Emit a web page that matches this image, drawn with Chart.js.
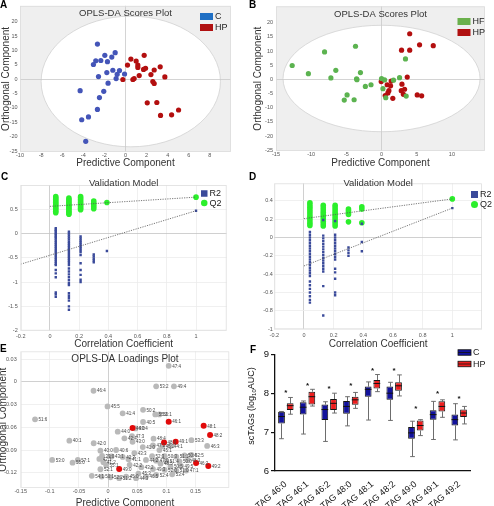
<!DOCTYPE html>
<html>
<head>
<meta charset="utf-8">
<script src="https://cdn.jsdelivr.net/npm/chart.js@4.4.1/dist/chart.umd.min.js"></script>
<style>
  html, body { margin: 0; padding: 0; background: #fff; }
  #fig { position: relative; width: 494px; height: 506px; overflow: hidden; font-family: 'Liberation Sans', Arial, sans-serif; }
  #fig canvas { position: absolute; }
  .tag { position: absolute; font-weight: bold; font-size: 10px; line-height: 1; color: #000; }
</style>
</head>
<body>
<div id="fig">
  <canvas id="pA" width="247" height="170" style="left:0;top:0"></canvas>
  <canvas id="pB" width="247" height="170" style="left:247px;top:0"></canvas>
  <canvas id="pC" width="247" height="184" style="left:0;top:168px"></canvas>
  <canvas id="pD" width="247" height="184" style="left:247px;top:168px"></canvas>
  <canvas id="pE" width="247" height="172" style="left:0;top:340px"></canvas>
  <canvas id="pF" width="247" height="172" style="left:247px;top:340px"></canvas>
  <div class="tag" style="left:0;top:0">A</div>
  <div class="tag" style="left:249px;top:0">B</div>
  <div class="tag" style="left:1px;top:172px">C</div>
  <div class="tag" style="left:249px;top:172px">D</div>
  <div class="tag" style="left:0;top:344px">E</div>
  <div class="tag" style="left:250px;top:345px">F</div>
</div>
<script>
const FONT = "'Liberation Sans', Arial, sans-serif"

// A: scores, C vs HP  [predictive, orthogonal]
const A_C = [[-2.66, 12.2], [-0.98, 9.2], [-1.96, 8.3], [-1.3, 7.7], [-2.82, 6.4], [-2.34, 6.5], [-1.71, 6.1], [-3.04, 5.1],
  [-1.2, 3.1], [-0.57, 3.0], [-1.77, 2.3], [-0.79, 1.7], [-0.09, 1.8], [-2.56, 0.9], [-0.89, 0.2], [-1.65, -1.4],
  [-4.3, -4.0], [-2.06, -4.2], [-2.47, -6.4], [-2.66, -10.5], [-4.15, -14.1], [-3.51, -13.1], [-3.77, -21.6]]
const A_HP = [[0.51, 7.0], [1.01, 6.3], [1.77, 8.3], [0.19, 4.9], [1.17, 4.9], [1.17, 4.1], [1.9, 3.8], [1.71, 3.4],
  [3.29, 4.3], [2.72, 3.2], [2.41, 1.6], [1.3, 1.25], [3.73, 0.8], [-0.25, -0.1], [0.7, -0.1], [0.82, 0.2],
  [2.59, -0.8], [2.72, -1.5], [2.06, -8.2], [2.97, -8.1], [3.32, -12.6], [4.37, -12.4], [5.03, -10.7]]

// B: scores, HF vs HP
const B_HF = [[-12.7, 4.9], [-10.4, 2.0], [-8.1, 9.7], [-6.5, 3.2], [-7.2, 0.5], [-3.7, 11.7], [-3.0, 2.4], [-3.55, 0.2],
  [-3.5, -0.1], [-4.9, -5.5], [-5.3, -7.3], [-3.9, -7.2], [-2.3, -2.5], [-1.5, -1.9], [0.0, 0.3], [0.43, -0.2],
  [0.2, -3.3], [0.6, -6.5], [1.7, -0.3], [2.56, 0.6], [3.4, 7.2], [3.5, -5.9]]
const B_HP = [[4.0, 16.1], [2.84, 10.3], [4.0, 10.3], [5.4, 12.2], [7.35, 11.9], [-0.05, -0.8], [0.8, -1.9], [1.37, -0.6],
  [1.28, -2.3], [1.04, -4.0], [0.9, -4.8], [0.52, -5.7], [1.6, -6.7], [2.9, -1.7], [3.27, -3.5], [2.8, -4.0],
  [3.1, -5.3], [3.65, 0.8], [5.07, -5.5], [5.7, -5.8]]

// C / D: permutation validation, one column of values per permuted correlation
const PERM_X = [0.04, 0.13, 0.21, 0.3, 0.39]
const C_Q2 = [
  [0.76, 0.73, 0.7, 0.67, 0.64, 0.61, 0.58, 0.55, 0.52, 0.49, 0.46, 0.43],
  [0.73, 0.7, 0.67, 0.64, 0.61, 0.58, 0.55, 0.52, 0.49, 0.46, 0.43, 0.4],
  [0.76, 0.73, 0.7, 0.67, 0.64, 0.61, 0.58, 0.55, 0.52, 0.49],
  [0.67, 0.63, 0.59, 0.55, 0.51],
  [0.64]
]
const C_R2 = [
  [0.11, 0.08, 0.05, 0.02, -0.01, -0.04, -0.07, -0.1, -0.14, -0.18, -0.22, -0.26, -0.3, -0.34, -0.38, -0.42, -0.46, -0.5,
    -0.54, -0.58, -0.62, -0.65, -0.75, -0.82, -0.9, -1.21, -1.25, -1.3],
  [0.04, 0.0, -0.04, -0.08, -0.12, -0.16, -0.2, -0.24, -0.28, -0.32, -0.36, -0.4, -0.44, -0.48, -0.52, -0.56, -0.6, -0.65,
    -0.72, -0.78, -0.84, -0.9, -0.96, -1.02, -1.06, -1.23, -1.28, -1.33, -1.38, -1.5, -1.57],
  [-0.06, -0.1, -0.14, -0.18, -0.22, -0.26, -0.3, -0.34, -0.38, -0.44, -0.61, -0.75, -0.85, -0.95, -1.0],
  [-0.43, -0.47, -0.51, -0.55, -0.59],
  [-0.36]
]
const C_Q2_FIT = [[0, 0.56], [1, 0.75]]
const C_R2_FIT = [[-0.2, -0.63], [1, 0.47]]

const D_Q2 = [
  [0.377, 0.355, 0.33, 0.305, 0.28, 0.255, 0.23, 0.205, 0.18, 0.155, 0.13],
  [0.35, 0.325, 0.3, 0.275, 0.25, 0.225, 0.2, 0.175, 0.15, 0.125],
  [0.35, 0.325, 0.3, 0.275, 0.25, 0.225, 0.2, 0.175, 0.15, 0.125],
  [0.31, 0.29, 0.27, 0.25, 0.17],
  [0.335, 0.31, 0.16]
]
const D_R2 = [
  [0.06, 0.03, 0.0, -0.03, -0.06, -0.09, -0.12, -0.15, -0.18, -0.21, -0.24, -0.27, -0.3, -0.33, -0.36, -0.39, -0.42,
    -0.48, -0.52, -0.56, -0.6, -0.64, -0.68, -0.71],
  [0.19, 0.02, -0.01, -0.04, -0.07, -0.1, -0.13, -0.16, -0.19, -0.22, -0.25, -0.28, -0.31, -0.34, -0.37, -0.53, -0.85],
  [0.18, 0.03, 0.0, -0.03, -0.06, -0.09, -0.12, -0.15, -0.18, -0.21, -0.24, -0.34, -0.38, -0.45, -0.6, -0.63],
  [-0.11, -0.14, -0.17, -0.2],
  [0.15, -0.05, -0.15]
]
const D_Q2_FIT = [[0, 0.205], [1, 0.42]]
const D_R2_FIT = [[0, -0.31], [1, 0.32]]

// E: loadings [predictive, orthogonal, label]
const E_OTHER = [
  [0.104, 0.021, '47:4'], [-0.025, -0.0118, '46:4'], [0.0825, -0.006, '53:2'], [0.113, -0.006, '49:4'],
  [-0.001, -0.0325, '45:5'], [0.06, -0.037, '50:2'], [0.025, -0.0416, '41:4'], [-0.1254, -0.0495, '51:6'],
  [0.081, -0.043, '55:2'], [0.088, -0.043, '56:1'], [0.06, -0.053, '40:5'], [0.0165, -0.0658, '44:0'],
  [0.047, -0.0615, '43:4'], [0.041, -0.0715, '47:3'], [0.028, -0.0745, '42:4'], [0.042, -0.079, '43:0'],
  [0.078, -0.075, '48:4'], [-0.0665, -0.0776, '40:1'], [-0.0247, -0.081, '42:0'], [0.143, -0.077, '53:3'],
  [0.17, -0.0845, '46:3'], [0.0595, -0.086, '41:0'], [0.077, -0.084, '47:2'], [0.093, -0.085, '45:2'],
  [0.107, -0.0845, '44:1'], [0.088, -0.09, '45:1'], [-0.0132, -0.0908, '40:0'], [0.0137, -0.0899, '40:6'],
  [-0.0103, -0.0978, '39:0'], [-0.015, -0.1017, '42:1'], [-0.096, -0.103, '53:0'], [-0.052, -0.103, '57:1'],
  [-0.061, -0.1066, '55:0'], [-0.0034, -0.1096, '55:1'], [-0.0132, -0.1153, '52:1'], [-0.028, -0.124, '54:1'],
  [-0.011, -0.125, '50:1'], [0.004, -0.1258, '52:2'], [0.019, -0.127, '51:2'], [0.0755, -0.098, '52:3'],
  [0.097, -0.098, '50:3'], [0.117, -0.0987, '51:1'], [0.131, -0.097, '50:4'], [0.143, -0.0965, '52:5'],
  [0.065, -0.103, '44:2'], [0.0825, -0.104, '47:0'], [0.1, -0.105, '51:4'], [0.1225, -0.105, '50:0'],
  [0.137, -0.103, '48:3'], [0.037, -0.1095, '42:2'], [0.057, -0.1125, '43:2'], [0.077, -0.115, '49:3'],
  [0.097, -0.116, '52:0'], [0.117, -0.117, '51:0'], [0.134, -0.117, '47:1'], [0.031, -0.125, '45:0'],
  [0.048, -0.127, '44:3'], [0.065, -0.125, '46:5'], [0.0825, -0.1228, '52:4'], [0.035, -0.102, '41:1'],
  [0.025, -0.099, '42:3'], [0.045, -0.094, '43:3'], [0.107, -0.112, '50:5'], [0.09, -0.108, '48:5'],
  [0.006, -0.0985, '43:1'], [-0.008, -0.106, '41:2'], [0.052, -0.121, '45:3'], [0.11, -0.122, '53:4'],
  [0.125, -0.111, '49:5']
]
const E_TAGS = [
  [0.042, -0.061, '46:0'], [0.104, -0.0526, '46:1'], [0.151, -0.107, '46:2'], [0.096, -0.08, '48:0'],
  [0.164, -0.058, '48:1'], [0.175, -0.07, '48:2'], [0.019, -0.115, '49:0'], [0.116, -0.079, '49:1'],
  [0.172, -0.111, '49:2']
]

// F: box plots of scTAGs (log10 AUC)
const TAG_LABELS = ['TAG 46:0', 'TAG 46:1', 'TAG 46:2', 'TAG 48:0', 'TAG 48:1', 'TAG 48:2', 'TAG 49:0', 'TAG 49:1', 'TAG 49:2']
const C_MIN = [6.83, 6.95, 6.76, 7.16, 7.31, 7.3, 6.37, 6.81, 6.8]
const C_Q1 = [7.22, 7.45, 7.31, 7.47, 7.91, 7.83, 6.83, 7.32, 7.17]
const C_MED = [7.4, 7.64, 7.58, 7.66, 8.1, 8.0, 6.98, 7.45, 7.32]
const C_Q3 = [7.52, 7.77, 7.71, 7.8, 8.17, 8.17, 7.13, 7.56, 7.45]
const C_MAX = [7.53, 7.8, 7.78, 7.91, 8.29, 8.28, 7.28, 7.79, 7.73]
const HP_MIN = [7.46, 7.67, 7.49, 7.61, 8.04, 7.93, 6.91, 7.38, 7.21]
const HP_Q1 = [7.57, 7.71, 7.57, 7.7, 8.12, 8.06, 7.04, 7.53, 7.39]
const HP_MED = [7.68, 7.91, 7.74, 7.83, 8.25, 8.19, 7.17, 7.66, 7.49]
const HP_Q3 = [7.74, 8.04, 7.85, 7.91, 8.34, 8.28, 7.3, 7.79, 7.58]
const HP_MAX = [7.89, 8.1, 8.0, 8.02, 8.48, 8.47, 7.32, 7.83, 7.66]
const STAR_Y = [8.05, 8.23, 8.17, 8.23, 8.64, 8.62, 7.66, 8.03, 7.92]

const A_X_TICKS = [-10, -8, -6, -4, -2, 0, 2, 4, 6, 8]
const B_X_TICKS = [-15, -10, -5, 0, 5, 10]
const AB_Y_TICKS = [-25, -20, -15, -10, -5, 0, 5, 10, 15, 20]
const CD_X_TICKS = [-0.2, 0, 0.2, 0.4, 0.6, 0.8, 1]
const C_Y_TICKS = [-2, -1.5, -1, -0.5, 0, 0.5]
const D_Y_TICKS = [-1, -0.8, -0.6, -0.4, -0.2, 0, 0.2, 0.4]
const E_X_TICKS = [-0.15, -0.1, -0.05, 0, 0.05, 0.1, 0.15]
const E_Y_TICKS = [-0.12, -0.09, -0.06, -0.03, 0, 0.03]
const F_Y_TICKS = [6, 7, 8, 9]

const BLUE = '#4455b8'
const RED = '#b30f0f'
const GREEN = '#5cb350'
const LIME = '#2bef2b'
const NAVY = '#3a4a9a'

const pts = list => list.map(([x, y, tag]) => ({ x, y, tag }))
const columns = cols => cols.flatMap((col, i) => col.map(y => ({ x: PERM_X[i], y })))

function axis({ min, max, ticks, size, tickPad = 2, title, titleSize = 10, titlePad = 0, lineH = 1.2, grid = () => 'transparent' }) {
  return {
    type: 'linear',
    min,
    max,
    afterBuildTicks: s => { s.ticks = ticks.map(v => ({ value: v })) },
    afterFit: s => { if (s.isHorizontal()) s.height = size; else s.width = size },
    ticks: { font: { family: FONT, size: 5.5 }, color: '#555', padding: tickPad, callback: v => String(v) },
    grid: { color: ctx => grid(ctx.tick ? ctx.tick.value : null), drawTicks: false, lineWidth: 0.8 },
    border: { display: false },
    title: title
      ? { display: true, text: title, color: '#333', font: { family: FONT, size: titleSize, lineHeight: lineH }, padding: titlePad }
      : { display: false },
  }
}

function backdrop({ fill, ellipse, frame }) {
  return {
    id: 'backdrop',
    beforeDraw(chart) {
      const { ctx, chartArea: a, scales: { x, y } } = chart
      ctx.save()
      if (fill) {
        ctx.fillStyle = fill
        ctx.fillRect(a.left, a.top, a.width, a.height)
      }
      if (ellipse) {
        const cx = x.getPixelForValue(ellipse.cx)
        const cy = y.getPixelForValue(ellipse.cy)
        const rx = Math.abs(x.getPixelForValue(ellipse.cx + ellipse.rx) - cx)
        const ry = Math.abs(y.getPixelForValue(ellipse.cy + ellipse.ry) - cy)
        ctx.beginPath()
        ctx.ellipse(cx, cy, rx, ry, 0, 0, Math.PI * 2)
        ctx.fillStyle = '#fff'
        ctx.fill()
        ctx.strokeStyle = '#d2d2d2'
        ctx.lineWidth = 0.8
        ctx.stroke()
      }
      ctx.restore()
    },
    afterDraw(chart) {
      if (!frame) return
      const { ctx, chartArea: a } = chart
      ctx.save()
      ctx.strokeStyle = frame
      ctx.lineWidth = 0.8
      ctx.strokeRect(a.left + 0.5, a.top + 0.5, a.width - 1, a.height - 1)
      ctx.restore()
    },
  }
}

function caption(text, dy, size = 9.5) {
  return {
    id: 'caption',
    afterDraw(chart) {
      const { ctx, chartArea: a } = chart
      ctx.save()
      ctx.font = `${size}px ${FONT}`
      ctx.fillStyle = '#333'
      ctx.textAlign = 'center'
      ctx.textBaseline = 'middle'
      ctx.fillText(text, (a.left + a.right) / 2, a.top + dy)
      ctx.restore()
    },
  }
}

function key(items, { x, y, gap, w, h, size = 9 }) {
  return {
    id: 'key',
    afterDraw(chart) {
      const { ctx } = chart
      ctx.save()
      ctx.font = `${size}px ${FONT}`
      ctx.textBaseline = 'middle'
      items.forEach((it, i) => {
        const cy = y + i * gap
        ctx.fillStyle = it.color
        if (it.shape === 'circle') {
          ctx.beginPath()
          ctx.arc(x + w / 2, cy, h / 2, 0, Math.PI * 2)
          ctx.fill()
        } else {
          ctx.fillRect(x, cy - h / 2, w, h)
          if (it.edge) {
            ctx.strokeStyle = it.edge
            ctx.lineWidth = 0.8
            ctx.strokeRect(x, cy - h / 2, w, h)
            ctx.beginPath()
            ctx.moveTo(x, cy)
            ctx.lineTo(x + w, cy)
            ctx.stroke()
          }
        }
        ctx.fillStyle = '#222'
        ctx.fillText(it.text, x + w + 2, cy + 0.5)
      })
      ctx.restore()
    },
  }
}

const pointTags = {
  id: 'pointTags',
  afterDatasetsDraw(chart) {
    const { ctx } = chart
    ctx.save()
    ctx.font = `4.5px ${FONT}`
    ctx.fillStyle = '#444'
    ctx.textBaseline = 'middle'
    chart.data.datasets.forEach((ds, i) => {
      chart.getDatasetMeta(i).data.forEach((el, j) => {
        ctx.fillText(ds.data[j].tag, el.x + 3.5, el.y + 0.5)
      })
    })
    ctx.restore()
  },
}

function scatter(id, datasets, scales, padding, plugins) {
  return new Chart(document.getElementById(id), {
    type: 'scatter',
    data: { datasets },
    options: {
      responsive: false,
      animation: false,
      layout: { padding },
      plugins: { legend: { display: false }, tooltip: { enabled: false } },
      scales,
    },
    plugins,
  })
}

const dots = (data, color, r) => ({ data, pointBackgroundColor: color, pointBorderWidth: 0, pointRadius: r })
const fitLine = data => ({
  data: pts(data), showLine: true, pointRadius: 0, borderColor: '#555', borderWidth: 0.8, borderDash: [1.2, 1.2],
})
const zeroGrid = v => (v === 0 ? '#c9c9c9' : 'transparent')
const lightGrid = v => (v === 0 ? '#c4c4c4' : '#ececec')

// A
scatter('pA', [dots(pts(A_C), BLUE, 2.6), dots(pts(A_HP), RED, 2.6)], {
  x: axis({ min: -10, max: 10, ticks: A_X_TICKS, size: 18, tickPad: 0, title: 'Predictive Component', titlePad: { bottom: 1 }, grid: zeroGrid }),
  y: axis({ min: -25.3, max: 25.5, ticks: AB_Y_TICKS, size: 20, tickPad: 2.5, title: 'Orthogonal Component', titlePad: { top: 0 }, grid: zeroGrid }),
}, { left: 0, top: 2, right: 16, bottom: 0 }, [
  backdrop({ fill: '#efefef', ellipse: { cx: 0.5, cy: -0.8, rx: 8.5, ry: 22.7 }, frame: '#dcdcdc' }),
  caption('OPLS-DA Scores Plot', 8),
  key([{ text: 'C', color: '#1f6fc4' }, { text: 'HP', color: '#b01010' }], { x: 200, y: 16.5, gap: 11, w: 13, h: 7 }),
])

// B
scatter('pB', [dots(pts(B_HF), GREEN, 2.6), dots(pts(B_HP), RED, 2.6)], {
  x: axis({ min: -15, max: 14.7, ticks: B_X_TICKS, size: 19, tickPad: 0, title: 'Predictive Component', titlePad: { bottom: 1 }, grid: zeroGrid }),
  y: axis({ min: -25.3, max: 25.8, ticks: AB_Y_TICKS, size: 29, tickPad: 3, title: 'Orthogonal Component', titlePad: { top: 5.5 }, grid: zeroGrid }),
}, { left: 0, top: 2, right: 9, bottom: 0 }, [
  backdrop({ fill: '#efefef', ellipse: { cx: 0, cy: 0.3, rx: 14, ry: 18.8 }, frame: '#dcdcdc' }),
  caption('OPLS-DA Scores Plot', 8),
  key([{ text: 'HF', color: '#6ab04c' }, { text: 'HP', color: '#b01010' }], { x: 210.5, y: 21.5, gap: 11, w: 13, h: 7 }),
])

// C
scatter('pC', [
  fitLine(C_Q2_FIT), fitLine(C_R2_FIT),
  { ...dots(columns(C_R2).concat(pts([[1, 0.47]])), NAVY, 1.7), pointStyle: 'rect' },
  dots(columns(C_Q2).concat(pts([[1, 0.75]])), LIME, 2.8),
], {
  x: axis({ min: -0.2, max: 1.21, ticks: CD_X_TICKS, size: 21.3, tickPad: 2.5, title: 'Correlation Coefficient', titlePad: { bottom: 1.3 }, grid: lightGrid }),
  y: axis({ min: -2, max: 1.0, ticks: C_Y_TICKS, size: 20.7, tickPad: 3, grid: lightGrid }),
}, { left: 0, top: 17, right: 20.3, bottom: 0 }, [
  backdrop({ frame: '#dedede' }),
  caption('Validation Model', -1.5),
  key([{ text: 'R2', color: NAVY }, { text: 'Q2', color: LIME, shape: 'circle' }], { x: 201, y: 25.5, gap: 9.5, w: 6.5, h: 6.5 }),
])

// D
scatter('pD', [
  fitLine(D_Q2_FIT), fitLine(D_R2_FIT),
  { ...dots(columns(D_R2).concat(pts([[1, 0.32]])), NAVY, 1.7), pointStyle: 'rect' },
  dots(columns(D_Q2).concat(pts([[1, 0.42]])), LIME, 2.8),
], {
  x: axis({ min: -0.2, max: 1.2, ticks: CD_X_TICKS, size: 22.7, tickPad: 2.5, title: 'Correlation Coefficient', titlePad: { bottom: 1.3 }, grid: lightGrid }),
  y: axis({ min: -1, max: 0.59, ticks: D_Y_TICKS, size: 27.3, tickPad: 1.5, grid: lightGrid }),
}, { left: 0, top: 15.3, right: 12, bottom: 0 }, [
  backdrop({ frame: '#dedede' }),
  caption('Validation Model', 0),
  key([{ text: 'R2', color: NAVY }, { text: 'Q2', color: LIME, shape: 'circle' }], { x: 224, y: 26.5, gap: 10, w: 7, h: 7 }),
])

// E
scatter('pE', [
  { ...dots(pts(E_TAGS), '#e10a0a', 3) },
  { ...dots(pts(E_OTHER), '#b9b9b9', 2.9) },
], {
  x: axis({ min: -0.15, max: 0.208, ticks: E_X_TICKS, size: 24, tickPad: 0.5, title: 'Predictive Component', titlePad: { bottom: 3 }, grid: lightGrid }),
  y: axis({ min: -0.14, max: 0.0402, ticks: E_Y_TICKS, size: 20.7, tickPad: 4, title: 'Orthogonal Component', titlePad: { top: -1.5 }, lineH: 1, grid: lightGrid }),
}, { left: 0, top: 11.3, right: 17.7, bottom: 0 }, [
  backdrop({ frame: '#e2e2e2' }),
  caption('OPLS-DA Loadings Plot', 8, 10),
  pointTags,
])

// F
const boxParts = {
  id: 'boxParts',
  beforeDatasetsDraw(chart) {
    const { ctx, scales: { y } } = chart
    ctx.save()
    ctx.strokeStyle = '#6d6d6d'
    ctx.lineWidth = 1
    ;[[C_MIN, C_Q1, C_Q3, C_MAX], [HP_MIN, HP_Q1, HP_Q3, HP_MAX]].forEach(([lo, q1, q3, hi], i) => {
      chart.getDatasetMeta(i).data.forEach((bar, j) => {
        const x = Math.round(bar.x) + 0.5
        const cap = bar.width * 0.35
        ctx.beginPath()
        ctx.moveTo(x, y.getPixelForValue(hi[j]))
        ctx.lineTo(x, y.getPixelForValue(q3[j]))
        ctx.moveTo(x, y.getPixelForValue(q1[j]))
        ctx.lineTo(x, y.getPixelForValue(lo[j]))
        ctx.moveTo(x - cap, y.getPixelForValue(hi[j]))
        ctx.lineTo(x + cap, y.getPixelForValue(hi[j]))
        ctx.moveTo(x - cap, y.getPixelForValue(lo[j]))
        ctx.lineTo(x + cap, y.getPixelForValue(lo[j]))
        ctx.stroke()
      })
    })
    ctx.restore()
  },
  afterDatasetsDraw(chart) {
    const { ctx, scales: { x, y } } = chart
    ctx.save()
    ctx.strokeStyle = '#111'
    ctx.lineWidth = 1
    ;[C_MED, HP_MED].forEach((med, i) => {
      chart.getDatasetMeta(i).data.forEach((bar, j) => {
        const py = y.getPixelForValue(med[j])
        ctx.beginPath()
        ctx.moveTo(bar.x - bar.width / 2, py)
        ctx.lineTo(bar.x + bar.width / 2, py)
        ctx.stroke()
      })
    })
    ctx.fillStyle = '#111'
    ctx.font = `bold 8px ${FONT}`
    ctx.textAlign = 'center'
    ctx.textBaseline = 'middle'
    STAR_Y.forEach((v, j) => ctx.fillText('*', x.getPixelForValue(j), y.getPixelForValue(v) + 2))
    // y title with subscript
    ctx.translate(5, 66)
    ctx.rotate(-Math.PI / 2)
    ctx.textAlign = 'left'
    const parts = [['scTAGs (log', 9, 0], ['10', 6, 2.5], ['AUC)', 9, 0]]
    const total = parts.reduce((s, [t, f]) => { ctx.font = `${f}px ${FONT}`; return s + ctx.measureText(t).width }, 0)
    let cx = -total / 2
    parts.forEach(([t, f, dy]) => {
      ctx.font = `${f}px ${FONT}`
      ctx.fillText(t, cx, dy)
      cx += ctx.measureText(t).width
    })
    ctx.restore()
  },
}

new Chart(document.getElementById('pF'), {
  type: 'bar',
  data: {
    labels: TAG_LABELS,
    datasets: [
      { label: 'C', data: C_Q1.map((q, i) => [q, C_Q3[i]]), backgroundColor: '#12129c' },
      { label: 'HP', data: HP_Q1.map((q, i) => [q, HP_Q3[i]]), backgroundColor: '#ee1e1e' },
    ].map(ds => ({ ...ds, borderColor: '#161616', borderWidth: 1, borderSkipped: false, categoryPercentage: 0.8, barPercentage: 0.78 })),
  },
  options: {
    responsive: false,
    animation: false,
    layout: { padding: { left: 0, top: 14.3, right: 24, bottom: 0 } },
    plugins: { legend: { display: false }, tooltip: { enabled: false } },
    scales: {
      x: {
        afterFit: s => { s.height = 41 },
        grid: { display: false },
        border: { color: '#111', width: 1.3 },
        ticks: { minRotation: 40, maxRotation: 40, autoSkip: false, padding: 0, color: '#111', font: { family: FONT, size: 9 } },
      },
      y: {
        min: 6,
        max: 9,
        afterBuildTicks: s => { s.ticks = F_Y_TICKS.map(v => ({ value: v })) },
        afterFit: s => { s.width = 28 },
        grid: { drawOnChartArea: false, tickLength: 4, color: '#111', lineWidth: 1.2 },
        border: { color: '#111', width: 1.3 },
        ticks: { padding: 2, color: '#111', font: { family: FONT, size: 9.5 } },
      },
    },
  },
  plugins: [
    boxParts,
    key([{ text: 'C', color: '#12129c', edge: '#111' }, { text: 'HP', color: '#ee1e1e', edge: '#111' }], { x: 211, y: 12.5, gap: 11.5, w: 13, h: 5.5, size: 9 }),
  ],
})
</script>
</body>
</html>
